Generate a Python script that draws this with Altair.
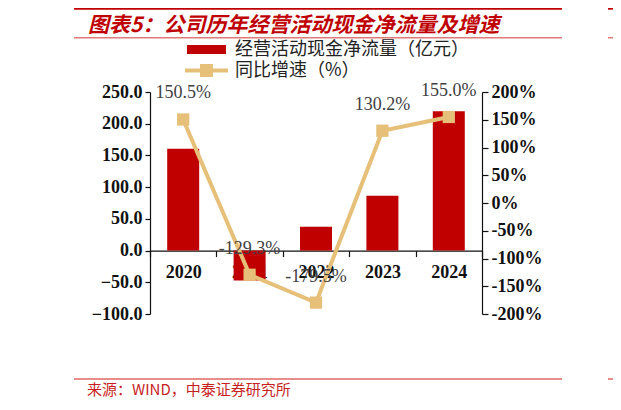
import altair as alt
import pandas as pd

# ---- data ----
years = ["2020", "2021", "2022", "2023", "2024"]
cash_flow = [160.6, -47.1, 37.6, 86.6, 219.5]          # 经营活动现金净流量（亿元）
growth = [150.5, -129.3, -179.5, 130.2, 155.0]          # 同比增速（%）
growth_labels = ["150.5%", "-129.3%", "-179.5%", "130.2%", "155.0%"]

left_ticks = [-100, -50, 0, 50, 100, 150, 200, 250]
right_ticks = [-200, -150, -100, -50, 0, 50, 100, 150, 200]

bar_name = "经营活动现金净流量（亿元）"
line_name = "同比增速（%）"
title_text = "图表5：公司历年经营活动现金净流量及增速"
source_text = "来源：WIND，中泰证券研究所"

RED = "#C00000"
TAN = "#E6BF78"
SERIF = "Liberation Serif"
CJK = "Noto Sans CJK SC"

W, H = 332, 222
ZERO_OFFSET = -(H - H * 250 / 350)

df = pd.DataFrame({
    "year": years,
    "cash": cash_flow,
    "growth": growth,
    "label": growth_labels,
    "bar_series": [bar_name] * len(years),
    "line_series": [line_name] * len(years),
})

x_enc = alt.X(
    "year:N",
    sort=years,
    scale=alt.Scale(paddingInner=0, paddingOuter=0),
    axis=alt.Axis(
        title=None, orient="bottom", offset=ZERO_OFFSET, labelAngle=0,
        tickBand="extent", tickSize=6, tickColor="#111", tickWidth=1.2,
        domainColor="#111", domainWidth=1.2,
        labelFont=SERIF, labelFontWeight="bold", labelFontSize=18,
        labelColor="#111", labelPadding=7,
    ),
)

y_left = alt.Y(
    "cash:Q",
    scale=alt.Scale(domain=[-100, 250], nice=False, zero=False),
    axis=alt.Axis(
        title=None, orient="left", values=left_ticks, format=".1f", grid=False,
        tickSize=5, tickColor="#111", tickWidth=1.2, domainColor="#111", domainWidth=1.2,
        labelFont=SERIF, labelFontWeight="bold", labelFontSize=18, labelColor="#111",
        labelPadding=3,
    ),
)

y_right = alt.Y(
    "growth:Q",
    scale=alt.Scale(domain=[-200, 200], nice=False, zero=False),
    axis=alt.Axis(
        title=None, orient="right", values=right_ticks, labelExpr="datum.value + '%'",
        grid=False, tickSize=6, tickColor="#111", tickWidth=1.2, domainColor="#111",
        domainWidth=1.2, labelFont=SERIF, labelFontWeight="bold", labelFontSize=18,
        labelColor="#111", labelPadding=3,
    ),
)

bar_sym = "M-1,-0.23H1V0.23H-1Z"
line_sym = ("M-1,-0.093H-0.3V-0.3H0.3V-0.093H1V0.093H0.3V0.3H-0.3V0.093H-1Z")

bars = alt.Chart(df).mark_bar(size=32).encode(
    x=x_enc,
    y=y_left,
    fill=alt.Fill(
        "bar_series:N",
        scale=alt.Scale(domain=[bar_name], range=[RED]),
        legend=alt.Legend(
            title=None, orient="none", legendX=37, legendY=-62, padding=0,
            symbolType=bar_sym, symbolSize=1521, symbolStrokeWidth=0,
            labelFont=CJK, labelFontSize=18, labelColor="#222", labelOffset=9,
            labelLimit=500,
        ),
    ),
)

line = alt.Chart(df).mark_line(color=TAN, strokeWidth=4).encode(x=x_enc, y=y_right)

squares = alt.Chart(df).mark_square(size=150, opacity=1).encode(
    x=x_enc,
    y=y_right,
    fill=alt.Fill(
        "line_series:N",
        scale=alt.Scale(domain=[line_name], range=[TAN]),
        legend=alt.Legend(
            title=None, orient="none", legendX=35, legendY=-43, padding=0,
            symbolType=line_sym, symbolSize=1849, symbolStrokeWidth=0,
            labelFont=CJK, labelFontSize=18, labelColor="#222", labelOffset=7,
            labelLimit=500,
        ),
    ),
)

labels = alt.Chart(df).mark_text(
    dy=-26, font=SERIF, fontSize=18, color="#404040", baseline="middle"
).encode(x=x_enc, y=y_right, text="label:N")

growth_layer = alt.layer(line, squares, labels)

one = pd.DataFrame({"t": [title_text], "s": [source_text]})

title = alt.Chart(one).mark_text(
    align="left", baseline="middle", font=CJK, fontSize=21, fontWeight="bold",
    fontStyle="italic", color=RED,
).encode(x=alt.value(-62), y=alt.value(-66.5), text="t:N")

source = alt.Chart(one).mark_text(
    align="left", baseline="middle", font=CJK, fontSize=15, color="#C81E1E",
).encode(x=alt.value(-63), y=alt.value(298), text="s:N")

top_rule = alt.Chart(one).mark_rule(color=RED, strokeWidth=2.2).encode(
    x=alt.value(-76), x2=alt.value(412), y=alt.value(-83.4))
top_rule_r = alt.Chart(one).mark_rule(color=RED, strokeWidth=2.2).encode(
    x=alt.value(458), x2=alt.value(470), y=alt.value(-83.4))
sub_rule = alt.Chart(one).mark_rule(color="#E07A7A", strokeWidth=1.5).encode(
    x=alt.value(-76), x2=alt.value(412), y=alt.value(-54.3))
sub_rule_r = alt.Chart(one).mark_rule(color="#E07A7A", strokeWidth=1.5).encode(
    x=alt.value(458), x2=alt.value(470), y=alt.value(-54.3))
src_rule = alt.Chart(one).mark_rule(color="#E06666", strokeWidth=1.5).encode(
    x=alt.value(-76), x2=alt.value(412), y=alt.value(287))
src_rule_r = alt.Chart(one).mark_rule(color="#E06666", strokeWidth=1.5).encode(
    x=alt.value(458), x2=alt.value(470), y=alt.value(287))

chart = alt.layer(
    bars, growth_layer, title, source,
    top_rule, top_rule_r, sub_rule, sub_rule_r, src_rule, src_rule_r,
).resolve_scale(
    y="independent", fill="independent"
).resolve_legend(
    fill="independent"
).properties(
    width=W, height=H,
    autosize=alt.AutoSizeParams(type="none"),
    padding={"left": 142, "top": 84, "right": 131, "bottom": 84},
    background="white",
).configure_view(stroke=None)

chart.save("out.html", embed_options={"renderer": "svg", "actions": False})
